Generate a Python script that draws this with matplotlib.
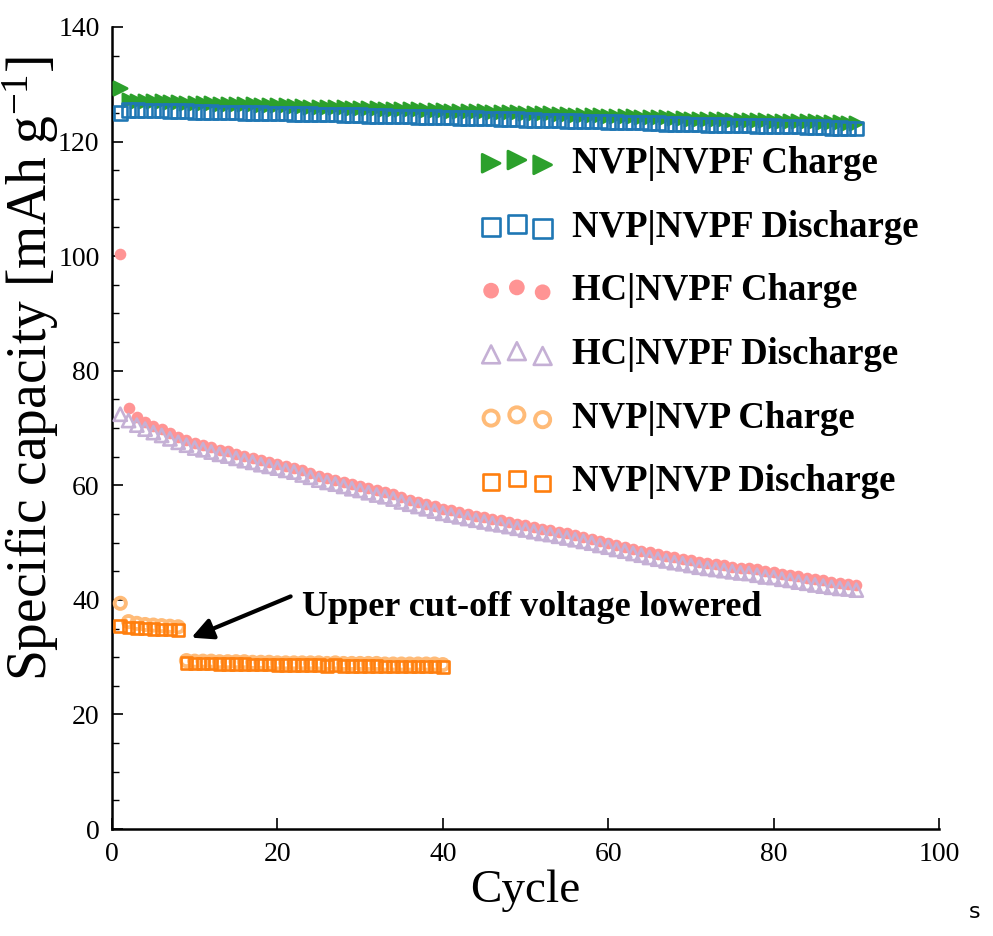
import numpy as np
import matplotlib
matplotlib.use("Agg")
import matplotlib.pyplot as plt
from matplotlib.ticker import MultipleLocator

plt.rcParams['font.family'] = ['Liberation Serif', 'DejaVu Serif']
plt.rcParams['mathtext.fontset'] = 'custom'
plt.rcParams['mathtext.rm'] = 'Liberation Serif'
plt.rcParams['mathtext.it'] = 'Liberation Serif:italic'

# cycle numbers
cycles_90 = np.arange(1, 91)
cycles_40 = np.arange(1, 41)

# NVP|NVPF full cell
nvp_nvpf_charge = [
    129.4, 127.2, 127.1, 127.1, 127.0, 127.0, 126.9, 126.9, 126.8, 126.8,
    126.7, 126.7, 126.6, 126.6, 126.6, 126.5, 126.5, 126.4, 126.4, 126.3,
    126.3, 126.2, 126.2, 126.1, 126.1, 126.0, 126.0, 126.0, 125.9, 125.9,
    125.8, 125.8, 125.7, 125.7, 125.7, 125.6, 125.6, 125.5, 125.5, 125.5,
    125.4, 125.4, 125.3, 125.3, 125.3, 125.2, 125.2, 125.1, 125.1, 125.0,
    125.0, 124.9, 124.9, 124.8, 124.8, 124.7, 124.7, 124.6, 124.6, 124.5,
    124.5, 124.4, 124.4, 124.3, 124.3, 124.2, 124.2, 124.1, 124.1, 124.0,
    124.0, 123.9, 123.9, 123.9, 123.8, 123.8, 123.7, 123.7, 123.7, 123.6,
    123.6, 123.6, 123.5, 123.5, 123.5, 123.4, 123.4, 123.4, 123.3, 123.3]
nvp_nvpf_discharge = [
    125.0, 125.5, 125.5, 125.4, 125.4, 125.4, 125.3, 125.3, 125.3, 125.2,
    125.2, 125.2, 125.1, 125.1, 125.1, 125.0, 125.0, 125.0, 124.9, 124.9,
    124.9, 124.8, 124.8, 124.8, 124.7, 124.7, 124.7, 124.6, 124.6, 124.6,
    124.5, 124.5, 124.5, 124.4, 124.4, 124.4, 124.3, 124.3, 124.3, 124.2,
    124.2, 124.1, 124.1, 124.1, 124.0, 124.0, 123.9, 123.9, 123.9, 123.8,
    123.8, 123.7, 123.7, 123.7, 123.6, 123.6, 123.5, 123.5, 123.5, 123.4,
    123.4, 123.3, 123.3, 123.3, 123.2, 123.2, 123.1, 123.1, 123.1, 123.0,
    123.0, 122.9, 122.9, 122.9, 122.8, 122.8, 122.8, 122.7, 122.7, 122.7,
    122.6, 122.6, 122.6, 122.5, 122.5, 122.5, 122.4, 122.4, 122.3, 122.3]

# HC|NVPF full cell
hc_nvpf_charge = [
    100.3, 73.5, 71.9, 71.0, 70.3, 69.8, 69.1, 68.4, 67.9, 67.3,
    67.0, 66.6, 66.2, 65.9, 65.5, 65.1, 64.8, 64.4, 64.1, 63.8,
    63.4, 63.1, 62.6, 62.2, 61.7, 61.3, 61.0, 60.6, 60.2, 59.9,
    59.5, 59.1, 58.8, 58.4, 57.9, 57.5, 57.1, 56.7, 56.3, 55.9,
    55.6, 55.3, 55.0, 54.7, 54.4, 54.1, 53.9, 53.6, 53.3, 53.0,
    52.7, 52.4, 52.2, 51.9, 51.6, 51.3, 51.0, 50.7, 50.3, 50.0,
    49.6, 49.3, 48.9, 48.6, 48.3, 48.0, 47.7, 47.4, 47.2, 46.9,
    46.6, 46.4, 46.2, 46.0, 45.8, 45.6, 45.5, 45.3, 45.1, 44.9,
    44.6, 44.4, 44.1, 43.9, 43.6, 43.4, 43.2, 43.0, 42.8, 42.6]
hc_nvpf_discharge = [
    72.4, 71.3, 70.5, 69.8, 69.2, 68.7, 68.1, 67.5, 67.0, 66.5,
    66.2, 65.8, 65.4, 65.1, 64.7, 64.3, 64.0, 63.6, 63.3, 63.0,
    62.6, 62.3, 61.8, 61.4, 60.9, 60.5, 60.2, 59.8, 59.4, 59.1,
    58.7, 58.3, 58.0, 57.6, 57.1, 56.7, 56.3, 55.9, 55.5, 55.1,
    54.8, 54.5, 54.2, 53.9, 53.6, 53.3, 53.1, 52.8, 52.5, 52.2,
    51.9, 51.6, 51.4, 51.1, 50.8, 50.5, 50.2, 49.9, 49.5, 49.2,
    48.8, 48.5, 48.1, 47.8, 47.4, 47.1, 46.8, 46.5, 46.3, 46.0,
    45.7, 45.5, 45.3, 45.1, 44.9, 44.7, 44.6, 44.3, 44.0, 43.9,
    43.6, 43.4, 43.1, 42.9, 42.6, 42.4, 42.2, 42.0, 41.9, 41.7]

# NVP|NVP symmetric cell (cut-off lowered after cycle 8)
nvp_nvp_charge = [
    39.4, 36.2, 35.9, 35.7, 35.6, 35.5, 35.4, 35.3, 29.4, 29.3,
    29.3, 29.3, 29.2, 29.2, 29.2, 29.2, 29.1, 29.1, 29.1, 29.0,
    29.0, 29.0, 29.0, 29.0, 29.0, 28.9, 29.0, 28.9, 28.9, 28.9,
    28.9, 28.9, 28.8, 28.8, 28.8, 28.8, 28.8, 28.8, 28.8, 28.7]
nvp_nvp_discharge = [
    35.4, 35.2, 35.1, 35.0, 34.9, 34.8, 34.8, 34.7, 29.0, 28.9,
    28.9, 28.9, 28.8, 28.8, 28.8, 28.8, 28.7, 28.7, 28.7, 28.6,
    28.6, 28.6, 28.6, 28.6, 28.6, 28.5, 28.6, 28.5, 28.5, 28.5,
    28.5, 28.5, 28.4, 28.4, 28.4, 28.4, 28.4, 28.4, 28.4, 28.3]

fig = plt.figure(figsize=(9.93, 9.36), dpi=100)
ax = fig.add_axes([0.1128, 0.1143, 0.8328, 0.8569])

ax.scatter(cycles_90, nvp_nvpf_charge, marker='>', s=90, facecolors='#2ca02c',
           edgecolors='#2ca02c', linewidths=2.0, label='NVP|NVPF Charge', zorder=3)
ax.scatter(cycles_90, nvp_nvpf_discharge, marker='s', s=95, facecolors='none',
           edgecolors='#1f77b4', linewidths=1.9, label='NVP|NVPF Discharge', zorder=3)
ax.scatter(cycles_90, hc_nvpf_charge, marker='o', s=70, color='#ff9494',
           linewidths=0, label='HC|NVPF Charge', zorder=3)
ax.scatter(cycles_90, hc_nvpf_discharge, marker='^', s=90, facecolors='none',
           edgecolors='#c5b0d5', linewidths=1.9, label='HC|NVPF Discharge', zorder=3)
ax.scatter(cycles_40, nvp_nvp_charge, marker='o', s=65, facecolors='none',
           edgecolors='#ffbb78', linewidths=2.8, label='NVP|NVP Charge', zorder=3)
ax.scatter(cycles_40, nvp_nvp_discharge, marker='s', s=70, facecolors='none',
           edgecolors='#ff7f0e', linewidths=1.9, label='NVP|NVP Discharge', zorder=3)

ax.set_xlim(0, 100)
ax.set_ylim(0, 140)
ax.xaxis.set_major_locator(MultipleLocator(20))
ax.yaxis.set_major_locator(MultipleLocator(20))
ax.yaxis.set_minor_locator(MultipleLocator(5))

for side in ['top', 'right']:
    ax.spines[side].set_visible(False)
for side in ['left', 'bottom']:
    ax.spines[side].set_linewidth(1.8)

ax.tick_params(which='both', direction='in', top=False, right=False)
ax.tick_params(which='major', length=8, width=1.2, labelsize=20, pad=9)
ax.tick_params(which='minor', length=5, width=1.0)

ax.set_xlabel('Cycle', fontsize=34, labelpad=2)
ax.set_ylabel('Specific capacity [mAh g$^{-1}$]', fontsize=40)
ax.yaxis.set_label_coords(-0.062, 0.574)

leg = ax.legend(loc='upper left', bbox_to_anchor=(0.405, 0.893), frameon=False,
                scatterpoints=3, markerscale=1.35, handlelength=2.0,
                handletextpad=0.5, labelspacing=0.78,
                prop={'family': 'Liberation Serif', 'weight': 'bold', 'size': 26.5})

# note on the symmetric cell, with the arrow pointing at the step
ax.text(23.0, 38.7, 'Upper cut-off voltage lowered', fontsize=26,
        fontweight='bold', va='center', ha='left')
ax.annotate('', xy=(9.6, 33.4), xytext=(21.6, 40.6),
            arrowprops=dict(arrowstyle='-|>', color='black', lw=3,
                            mutation_scale=32, shrinkA=0, shrinkB=0))

fig.text(0.987, 0.015, 's', fontsize=16, family='DejaVu Sans', ha='right', va='bottom')

fig.savefig('out.png', dpi=100)
